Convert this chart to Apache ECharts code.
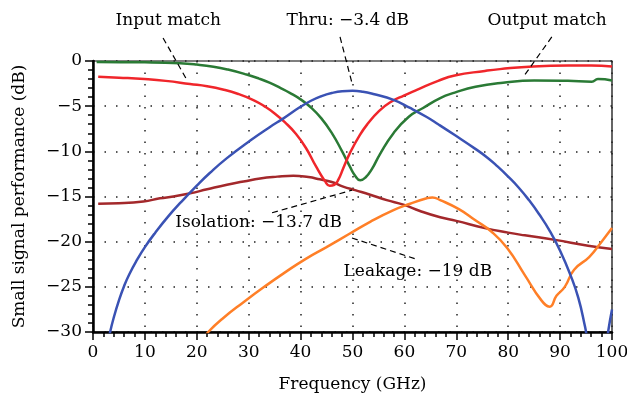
<!DOCTYPE html>
<html>
<head>
<meta charset="utf-8">
<script src="https://cdn.jsdelivr.net/npm/echarts@6/dist/echarts.min.js"></script>
<style>
  html, body { margin: 0; padding: 0; background: #fff; }
  #chart { width: 627px; height: 399px; }
</style>
</head>
<body>
<div id="chart"></div>
<script>
// [frequency GHz, dB]
const thru = [[2.6, -32], [3.3, -30], [4, -28.4], [5, -26.5], [6, -24.9], [7, -23.6], [8.5, -22.0], [10, -20.6], [12, -19.0], [14.5, -17.2], [17, -15.6], [20, -13.8], [22.5, -12.4], [25.8, -10.75], [30.3, -8.8], [34.1, -7.3], [36.7, -6.35], [39.9, -5.1], [42, -4.4], [44, -3.9], [46, -3.55], [48, -3.35], [50, -3.3], [52, -3.4], [54, -3.65], [57.9, -4.3], [61.1, -5.2], [64.3, -6.2], [66.5, -7.0], [69.7, -8.2], [73.6, -9.7], [76, -10.7], [78, -11.7], [80, -12.8], [82, -14.0], [84, -15.4], [86, -17.0], [88, -18.8], [90, -21.0], [92, -23.7], [93.5, -26.2], [94.8, -29.4], [95.5, -31.5], [96.5, -33], [98.5, -33], [99.3, -29.8], [100, -27.5]]
const inputMatch = [[1, -1.75], [5, -1.85], [9.9, -2.0], [14, -2.2], [18.7, -2.55], [22, -2.8], [25, -3.15], [28, -3.65], [31, -4.35], [33, -5.0], [35, -5.8], [37, -6.8], [39, -8.0], [41, -9.6], [43, -11.7], [44.7, -13.3], [45.6, -13.8], [46.5, -13.7], [47.3, -13.1], [48.2, -11.9], [49.5, -10.2], [51.4, -8.2], [53, -6.9], [55, -5.6], [57.2, -4.6], [60, -3.8], [62.4, -3.2], [66.5, -2.2], [69.7, -1.6], [75.5, -1.1], [78.4, -0.9], [84.8, -0.6], [91.6, -0.5], [96, -0.5], [100, -0.6]]
const outputMatch = [[0.7, -0.1], [10, -0.15], [16.8, -0.26], [20, -0.4], [23.2, -0.63], [26, -0.95], [29.6, -1.5], [32, -1.95], [34, -2.4], [36, -2.95], [38, -3.55], [40, -4.25], [42, -5.15], [44, -6.35], [46, -7.95], [48, -10.0], [49.5, -11.7], [50.5, -12.7], [51.5, -13.2], [52.5, -12.9], [53.7, -12.0], [55.3, -10.3], [57.9, -8.0], [60.8, -6.2], [63.6, -5.2], [66.9, -4.1], [69.7, -3.5], [73.7, -2.85], [79, -2.4], [85, -2.15], [91.5, -2.2], [96.1, -2.3], [97.3, -2.0], [100, -2.15]]
const isolation = [[1, -15.8], [5, -15.75], [9.7, -15.55], [12.9, -15.2], [15.5, -15.0], [18.7, -14.65], [22, -14.2], [25.8, -13.7], [29, -13.35], [32.2, -13.0], [35.5, -12.8], [38.6, -12.7], [41.5, -12.85], [43.7, -13.1], [46, -13.4], [48.2, -13.9], [50.5, -14.3], [53.4, -14.8], [56.6, -15.4], [59.8, -15.9], [63, -16.6], [66.9, -17.3], [70, -17.7], [75.5, -18.5], [80, -19.0], [83.2, -19.3], [89, -19.8], [95.4, -20.45], [100, -20.8]]
const leakage = [[21.5, -30.6], [22.2, -30], [25, -28.5], [29, -26.7], [33, -25.0], [37, -23.4], [41, -21.9], [45, -20.6], [49.5, -19.1], [53.4, -17.8], [57.9, -16.5], [61.1, -15.8], [64.3, -15.2], [65.4, -15.1], [66.9, -15.4], [70.5, -16.4], [73.6, -17.6], [76.8, -18.9], [79.8, -20.7], [83.2, -23.7], [86.4, -26.5], [88, -27.2], [89.3, -26.0], [90.9, -25.0], [92.7, -23.1], [95.6, -21.7], [98, -20.0], [100, -18.5]]

// label text, label centre and leader line ends, in data units
const notes = [
  { text: 'Input match', at: [14.5, 4.5], from: [13.5, 2.55], to: [18.1, -2.1] },
  { text: 'Thru: \u22123.4 dB', at: [49.1, 4.5], from: [47.6, 2.66], to: [49.9, -2.44] },
  { text: 'Output match', at: [87.5, 4.5], from: [88.4, 2.66], to: [82.9, -1.77] },
  { text: 'Isolation: \u221213.7 dB', at: [31.9, -17.9], from: [34.5, -16.8], to: [49.9, -14.3] },
  { text: 'Leakage: \u221219 dB', at: [62.6, -23.3], from: [49.9, -19.6], to: [62.6, -22.0] }
]

const font = 'DejaVu Serif'
const minus = v => (v < 0 ? '\u2212' + Math.abs(v) : String(v))

const chart = echarts.init(document.getElementById('chart'))

function line (name, data, color) {
  return {
    name: name,
    type: 'line',
    data: data,
    showSymbol: false,
    smooth: 0.5,
    clip: true,
    lineStyle: { color: color, width: 2.5 },
    itemStyle: { color: color }
  }
}

const axisCommon = {
  type: 'value',
  axisLine: { onZero: false, lineStyle: { color: '#000', width: 2.5 } },
  axisTick: { length: 8, lineStyle: { color: '#000', width: 1.5 } },
  minorTick: { show: true, splitNumber: 5, length: 5, lineStyle: { color: '#000', width: 1.5 } },
  splitLine: { show: true, lineStyle: { type: [1.5, 10], color: '#222', width: 1.5 } },
  axisLabel: { color: '#000', fontFamily: font, fontSize: 17, formatter: minus },
  nameLocation: 'middle',
  nameTextStyle: { color: '#000', fontFamily: font, fontSize: 17 }
}

chart.setOption({
  animation: false,
  grid: {
    left: 93, right: 15, top: 61, bottom: 67,
    show: true, borderColor: '#000', borderWidth: 1.2,
    outerBoundsMode: 'none'
  },
  xAxis: Object.assign({}, axisCommon, {
    min: 0, max: 100, interval: 10,
    name: 'Frequency (GHz)', nameGap: 44,
    axisLabel: Object.assign({}, axisCommon.axisLabel, { margin: 12 })
  }),
  yAxis: Object.assign({}, axisCommon, {
    min: -30, max: 0, interval: 5,
    name: 'Small signal performance (dB)', nameGap: 65,
    axisLabel: Object.assign({}, axisCommon.axisLabel, { margin: 11 })
  }),
  series: [
    line('Isolation', isolation, '#a3282b'),
    line('Leakage', leakage, '#ff7f27'),
    line('Output match', outputMatch, '#2a7a35'),
    line('Input match', inputMatch, '#f0262b'),
    line('Thru', thru, '#3a52b4')
  ]
})

// annotations placed through the axes
const px = p => chart.convertToPixel({ gridIndex: 0 }, p)
const graphics = []
notes.forEach(n => {
  const a = px(n.from)
  const b = px(n.to)
  const c = px(n.at)
  graphics.push({
    type: 'line',
    z: 10,
    shape: { x1: a[0], y1: a[1], x2: b[0], y2: b[1] },
    style: { stroke: '#000', lineWidth: 1.2, lineDash: [6, 4] }
  })
  graphics.push({
    type: 'text',
    z: 11,
    x: c[0],
    y: c[1],
    style: {
      text: n.text,
      font: '17px "' + font + '"',
      fill: '#000',
      align: 'center',
      verticalAlign: 'middle'
    }
  })
})
chart.setOption({ graphic: graphics })

window.addEventListener('resize', () => chart.resize())
</script>
</body>
</html>
